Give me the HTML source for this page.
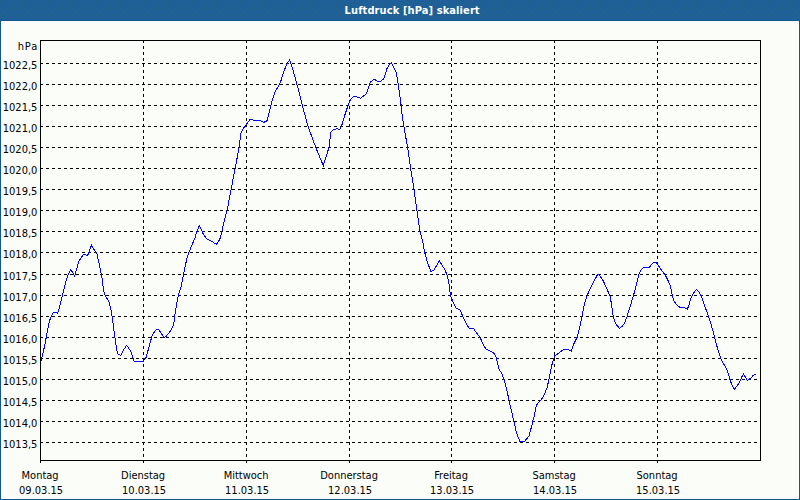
<!DOCTYPE html><html><head><meta charset="utf-8"><title>Luftdruck [hPa] skaliert</title><style>
html,body{margin:0;padding:0;width:800px;height:500px;overflow:hidden;background:#fbfdf9}
svg{display:block}
.t{font-family:"DejaVu Sans Condensed","DejaVu Sans","Liberation Sans",sans-serif;font-size:11px;fill:#000}
.ttl{font-family:"DejaVu Sans Condensed","DejaVu Sans","Liberation Sans",sans-serif;font-size:11px;font-weight:bold;fill:#fff}
</style></head><body>
<svg width="800" height="500" viewBox="0 0 800 500">
<rect x="0" y="0" width="800" height="500" fill="#fbfdf9"/>
<defs><pattern id="dz" x="0" y="0" width="24" height="21" patternUnits="userSpaceOnUse"><rect width="24" height="21" fill="#1e6092"/><rect x="8" y="0" width="1" height="1" fill="#2363ad"/><rect x="16" y="0" width="1" height="1" fill="#2363ad"/><rect x="4" y="1" width="1" height="1" fill="#2363ad"/><rect x="12" y="1" width="1" height="1" fill="#2363ad"/><rect x="20" y="1" width="1" height="1" fill="#2363ad"/><rect x="1" y="2" width="1" height="1" fill="#2363ad"/><rect x="6" y="2" width="1" height="1" fill="#2363ad"/><rect x="9" y="2" width="1" height="1" fill="#2363ad"/><rect x="14" y="2" width="1" height="1" fill="#2363ad"/><rect x="17" y="2" width="1" height="1" fill="#2363ad"/><rect x="22" y="2" width="1" height="1" fill="#2363ad"/><rect x="4" y="4" width="1" height="1" fill="#2363ad"/><rect x="11" y="4" width="1" height="1" fill="#2363ad"/><rect x="19" y="4" width="1" height="1" fill="#2363ad"/><rect x="2" y="5" width="1" height="1" fill="#2363ad"/><rect x="8" y="5" width="1" height="1" fill="#2363ad"/><rect x="13" y="5" width="1" height="1" fill="#2363ad"/><rect x="16" y="5" width="1" height="1" fill="#2363ad"/><rect x="21" y="5" width="1" height="1" fill="#2363ad"/><rect x="6" y="6" width="1" height="1" fill="#2363ad"/><rect x="11" y="7" width="1" height="1" fill="#2363ad"/><rect x="19" y="7" width="1" height="1" fill="#2363ad"/><rect x="1" y="8" width="1" height="1" fill="#2363ad"/><rect x="4" y="8" width="1" height="1" fill="#2363ad"/><rect x="7" y="8" width="1" height="1" fill="#2363ad"/><rect x="15" y="8" width="1" height="1" fill="#2363ad"/><rect x="23" y="8" width="1" height="1" fill="#2363ad"/><rect x="9" y="9" width="1" height="1" fill="#2363ad"/><rect x="13" y="9" width="1" height="1" fill="#2363ad"/><rect x="17" y="9" width="1" height="1" fill="#2363ad"/><rect x="21" y="9" width="1" height="1" fill="#2363ad"/><rect x="2" y="11" width="1" height="1" fill="#2363ad"/><rect x="5" y="11" width="1" height="1" fill="#2363ad"/><rect x="8" y="11" width="1" height="1" fill="#2363ad"/><rect x="12" y="11" width="1" height="1" fill="#2363ad"/><rect x="16" y="11" width="1" height="1" fill="#2363ad"/><rect x="20" y="11" width="1" height="1" fill="#2363ad"/><rect x="3" y="13" width="1" height="1" fill="#2363ad"/><rect x="10" y="13" width="1" height="1" fill="#2363ad"/><rect x="14" y="13" width="1" height="1" fill="#2363ad"/><rect x="18" y="13" width="1" height="1" fill="#2363ad"/><rect x="22" y="13" width="1" height="1" fill="#2363ad"/><rect x="7" y="14" width="1" height="1" fill="#2363ad"/><rect x="1" y="15" width="1" height="1" fill="#2363ad"/><rect x="9" y="15" width="1" height="1" fill="#2363ad"/><rect x="13" y="15" width="1" height="1" fill="#2363ad"/><rect x="17" y="15" width="1" height="1" fill="#2363ad"/><rect x="21" y="15" width="1" height="1" fill="#2363ad"/><rect x="5" y="16" width="1" height="1" fill="#2363ad"/><rect x="3" y="17" width="1" height="1" fill="#2363ad"/><rect x="8" y="17" width="1" height="1" fill="#2363ad"/><rect x="12" y="17" width="1" height="1" fill="#2363ad"/><rect x="16" y="17" width="1" height="1" fill="#2363ad"/><rect x="20" y="17" width="1" height="1" fill="#2363ad"/><rect x="2" y="19" width="1" height="1" fill="#2363ad"/><rect x="6" y="19" width="1" height="1" fill="#2363ad"/><rect x="10" y="19" width="1" height="1" fill="#2363ad"/><rect x="14" y="19" width="1" height="1" fill="#2363ad"/><rect x="18" y="19" width="1" height="1" fill="#2363ad"/><rect x="22" y="19" width="1" height="1" fill="#2363ad"/></pattern></defs>
<rect x="0" y="0" width="800" height="20" fill="url(#dz)" shape-rendering="crispEdges"/>
<rect x="0" y="20" width="800" height="1" fill="#12568c"/>
<rect x="1" y="21" width="798" height="478" fill="#ffffff"/>
<rect x="2" y="22" width="796" height="476" fill="#fbfdf9"/>
<rect x="0" y="20" width="1" height="480" fill="#12568c"/>
<rect x="799" y="20" width="1" height="480" fill="#12568c"/>
<rect x="0" y="499" width="800" height="1" fill="#12568c"/>
<text class="ttl" x="344.6" y="14" letter-spacing="0.1">Luftdruck [hPa] skaliert</text>
<g stroke="#000" stroke-width="1" shape-rendering="crispEdges" fill="none">
<line x1="40" y1="63.5" x2="760" y2="63.5" stroke-dasharray="3 3"/>
<line x1="40" y1="84.5" x2="760" y2="84.5" stroke-dasharray="3 3"/>
<line x1="40" y1="105.5" x2="760" y2="105.5" stroke-dasharray="3 3"/>
<line x1="40" y1="126.5" x2="760" y2="126.5" stroke-dasharray="3 3"/>
<line x1="40" y1="147.5" x2="760" y2="147.5" stroke-dasharray="3 3"/>
<line x1="40" y1="168.5" x2="760" y2="168.5" stroke-dasharray="3 3"/>
<line x1="40" y1="189.5" x2="760" y2="189.5" stroke-dasharray="3 3"/>
<line x1="40" y1="210.5" x2="760" y2="210.5" stroke-dasharray="3 3"/>
<line x1="40" y1="231.5" x2="760" y2="231.5" stroke-dasharray="3 3"/>
<line x1="40" y1="252.5" x2="760" y2="252.5" stroke-dasharray="3 3"/>
<line x1="40" y1="274.5" x2="760" y2="274.5" stroke-dasharray="3 3"/>
<line x1="40" y1="295.5" x2="760" y2="295.5" stroke-dasharray="3 3"/>
<line x1="40" y1="316.5" x2="760" y2="316.5" stroke-dasharray="3 3"/>
<line x1="40" y1="337.5" x2="760" y2="337.5" stroke-dasharray="3 3"/>
<line x1="40" y1="358.5" x2="760" y2="358.5" stroke-dasharray="3 3"/>
<line x1="40" y1="379.5" x2="760" y2="379.5" stroke-dasharray="3 3"/>
<line x1="40" y1="400.5" x2="760" y2="400.5" stroke-dasharray="3 3"/>
<line x1="40" y1="421.5" x2="760" y2="421.5" stroke-dasharray="3 3"/>
<line x1="40" y1="442.5" x2="760" y2="442.5" stroke-dasharray="3 3"/>
<line x1="143.5" y1="40" x2="143.5" y2="460" stroke-dasharray="3 3"/>
<line x1="143.5" y1="460" x2="143.5" y2="463"/>
<line x1="246.5" y1="40" x2="246.5" y2="460" stroke-dasharray="3 3"/>
<line x1="246.5" y1="460" x2="246.5" y2="463"/>
<line x1="349.5" y1="40" x2="349.5" y2="460" stroke-dasharray="3 3"/>
<line x1="349.5" y1="460" x2="349.5" y2="463"/>
<line x1="451.5" y1="40" x2="451.5" y2="460" stroke-dasharray="3 3"/>
<line x1="451.5" y1="460" x2="451.5" y2="463"/>
<line x1="554.5" y1="40" x2="554.5" y2="460" stroke-dasharray="3 3"/>
<line x1="554.5" y1="460" x2="554.5" y2="463"/>
<line x1="657.5" y1="40" x2="657.5" y2="460" stroke-dasharray="3 3"/>
<line x1="657.5" y1="460" x2="657.5" y2="463"/>
<line x1="40" y1="40.5" x2="761" y2="40.5"/>
<line x1="40" y1="460.5" x2="761" y2="460.5"/>
<line x1="40.5" y1="40" x2="40.5" y2="463"/>
<line x1="760.5" y1="40" x2="760.5" y2="461"/>
</g>
<polyline points="41.00,361.20 44.50,346.50 48.20,327.00 49.50,321.00 50.50,318.00 51.50,316.30 52.50,314.30 53.50,312.50 55.60,312.30 57.40,313.20 58.60,310.20 60.40,303.60 62.20,296.40 64.00,289.20 65.80,281.40 68.20,274.80 70.60,270.00 72.40,272.00 74.80,276.20 76.00,271.40 77.80,264.80 79.00,261.20 80.80,258.20 83.20,254.60 85.60,254.60 87.40,255.60 89.20,252.20 89.80,249.20 91.60,245.40 93.40,248.60 95.80,252.20 97.00,254.00 98.80,262.40 100.60,270.80 101.40,274.40 102.40,280.40 103.60,290.80 105.40,296.20 109.00,301.60 110.80,308.80 112.60,319.60 114.40,334.00 116.20,346.70 117.70,353.90 120.70,355.30 123.40,350.30 126.70,345.20 130.60,351.20 134.20,361.10 137.80,361.40 143.20,361.40 146.00,357.50 148.60,348.50 151.60,337.20 154.00,332.40 156.40,329.50 158.80,329.50 161.20,333.20 164.10,338.00 166.80,335.60 170.60,330.80 173.60,325.00 174.70,316.00 176.30,306.00 178.40,295.00 181.20,286.00 183.50,274.50 185.50,264.60 187.30,257.00 189.10,252.00 191.90,245.00 194.70,238.70 196.80,231.70 199.30,225.40 201.00,228.90 203.10,233.80 206.60,238.70 210.80,240.80 216.40,244.30 218.50,241.50 220.60,237.30 222.00,231.00 224.10,221.20 227.20,210.00 231.20,189.00 235.20,168.00 239.20,147.00 240.90,133.10 243.10,128.70 246.40,124.40 250.40,119.10 253.60,120.40 260.00,120.40 264.00,122.30 267.20,120.70 269.60,110.80 272.00,101.20 275.20,91.60 278.40,86.00 280.80,81.20 284.00,70.80 287.20,63.60 289.60,59.80 292.00,66.80 295.20,78.00 297.60,86.80 300.90,100.00 307.90,126.00 315.60,147.00 323.30,165.50 328.90,147.60 331.00,132.20 333.30,130.00 336.40,128.70 339.70,129.30 341.90,124.90 345.20,113.90 348.50,104.00 350.70,99.60 354.00,96.30 357.40,97.20 360.60,98.30 363.00,96.40 366.20,94.00 367.80,90.00 369.40,84.40 371.00,81.50 374.20,79.30 376.60,80.70 379.00,82.00 381.40,80.70 383.80,78.80 385.40,74.00 387.00,68.40 389.40,64.70 391.50,62.50 393.40,66.80 396.30,72.40 397.90,82.00 399.50,93.20 401.10,105.20 402.40,117.20 403.80,126.00 407.50,146.90 410.60,168.00 414.00,189.00 416.80,210.00 420.00,231.00 422.80,242.00 424.60,252.00 427.60,263.00 431.00,271.50 434.00,270.00 437.00,265.00 439.40,261.00 442.00,265.00 445.00,270.00 447.40,276.00 449.00,284.00 450.00,292.00 451.00,297.00 453.00,302.00 456.00,308.00 460.00,310.00 462.80,316.30 466.30,324.00 469.10,328.20 473.30,328.20 476.10,332.40 478.90,335.90 481.00,339.40 483.10,344.30 485.90,348.90 489.40,350.90 493.60,352.70 495.70,356.20 496.70,359.70 497.80,364.60 499.20,369.50 502.00,373.70 504.60,381.20 507.00,390.80 509.40,402.00 511.80,412.40 514.20,422.80 516.60,433.20 520.00,441.80 524.50,441.60 526.00,439.70 529.30,435.30 530.50,430.40 532.00,425.00 533.50,417.80 534.40,416.00 535.80,407.60 537.40,403.60 541.40,399.60 544.60,394.00 547.00,387.60 548.60,381.20 550.20,373.20 551.70,365.60 554.60,356.00 558.20,353.60 563.00,350.00 567.80,349.30 571.40,351.20 573.80,344.00 577.40,336.80 579.80,327.20 582.20,315.20 584.60,303.20 587.00,296.00 589.40,290.00 593.00,282.80 597.80,274.20 600.00,276.00 602.20,279.00 604.60,283.80 607.80,291.00 610.20,296.60 611.80,306.20 613.40,317.40 615.80,323.80 619.30,328.30 622.20,326.20 624.60,323.00 627.00,316.60 630.20,306.20 633.40,295.80 636.60,283.80 639.00,274.20 640.60,270.20 643.80,267.50 649.20,267.50 651.30,264.70 653.40,262.60 655.50,262.30 657.60,264.00 659.70,267.50 662.50,271.70 665.30,275.20 668.10,280.80 670.20,285.00 671.60,292.00 673.00,298.30 674.40,301.80 677.20,305.30 680.00,307.40 684.20,307.40 687.40,309.10 689.10,304.60 690.90,298.30 693.30,293.40 696.50,289.50 698.90,292.00 701.00,295.50 704.90,306.50 709.30,318.60 712.60,329.60 715.90,342.80 719.20,353.80 720.40,357.00 721.20,359.40 723.20,363.40 725.60,367.00 727.20,370.20 728.40,374.20 729.60,378.20 731.20,383.00 732.80,386.60 734.40,389.40 736.00,387.00 738.40,384.20 740.40,380.20 742.00,376.60 743.40,374.20 744.80,376.20 746.40,379.00 747.60,380.60 749.20,379.00 750.80,378.20 752.40,376.20 754.00,375.00 755.60,374.20" fill="none" stroke="#0000ff" stroke-width="1" shape-rendering="crispEdges"/>
<g class="t" text-anchor="end">
<text x="38.2" y="50" letter-spacing="0.9">hPa</text>
<text x="37.4" y="69">1022,5</text>
<text x="37.4" y="90">1022,0</text>
<text x="37.4" y="111">1021,5</text>
<text x="37.4" y="132">1021,0</text>
<text x="37.4" y="153">1020,5</text>
<text x="37.4" y="174">1020,0</text>
<text x="37.4" y="195">1019,5</text>
<text x="37.4" y="216">1019,0</text>
<text x="37.4" y="237">1018,5</text>
<text x="37.4" y="258">1018,0</text>
<text x="37.4" y="280">1017,5</text>
<text x="37.4" y="301">1017,0</text>
<text x="37.4" y="322">1016,5</text>
<text x="37.4" y="343">1016,0</text>
<text x="37.4" y="364">1015,5</text>
<text x="37.4" y="385">1015,0</text>
<text x="37.4" y="406">1014,5</text>
<text x="37.4" y="427">1014,0</text>
<text x="37.4" y="448">1013,5</text>
</g>
<g class="t" text-anchor="middle">
<text x="40.1" y="479">Montag</text><text x="41.1" y="494">09.03.15</text>
<text x="143.1" y="479">Dienstag</text><text x="144.1" y="494">10.03.15</text>
<text x="246.1" y="479">Mittwoch</text><text x="247.1" y="494">11.03.15</text>
<text x="349.1" y="479">Donnerstag</text><text x="350.1" y="494">12.03.15</text>
<text x="451.1" y="479">Freitag</text><text x="452.1" y="494">13.03.15</text>
<text x="554.1" y="479">Samstag</text><text x="555.1" y="494">14.03.15</text>
<text x="657.1" y="479">Sonntag</text><text x="658.1" y="494">15.03.15</text>
</g>
</svg></body></html>
